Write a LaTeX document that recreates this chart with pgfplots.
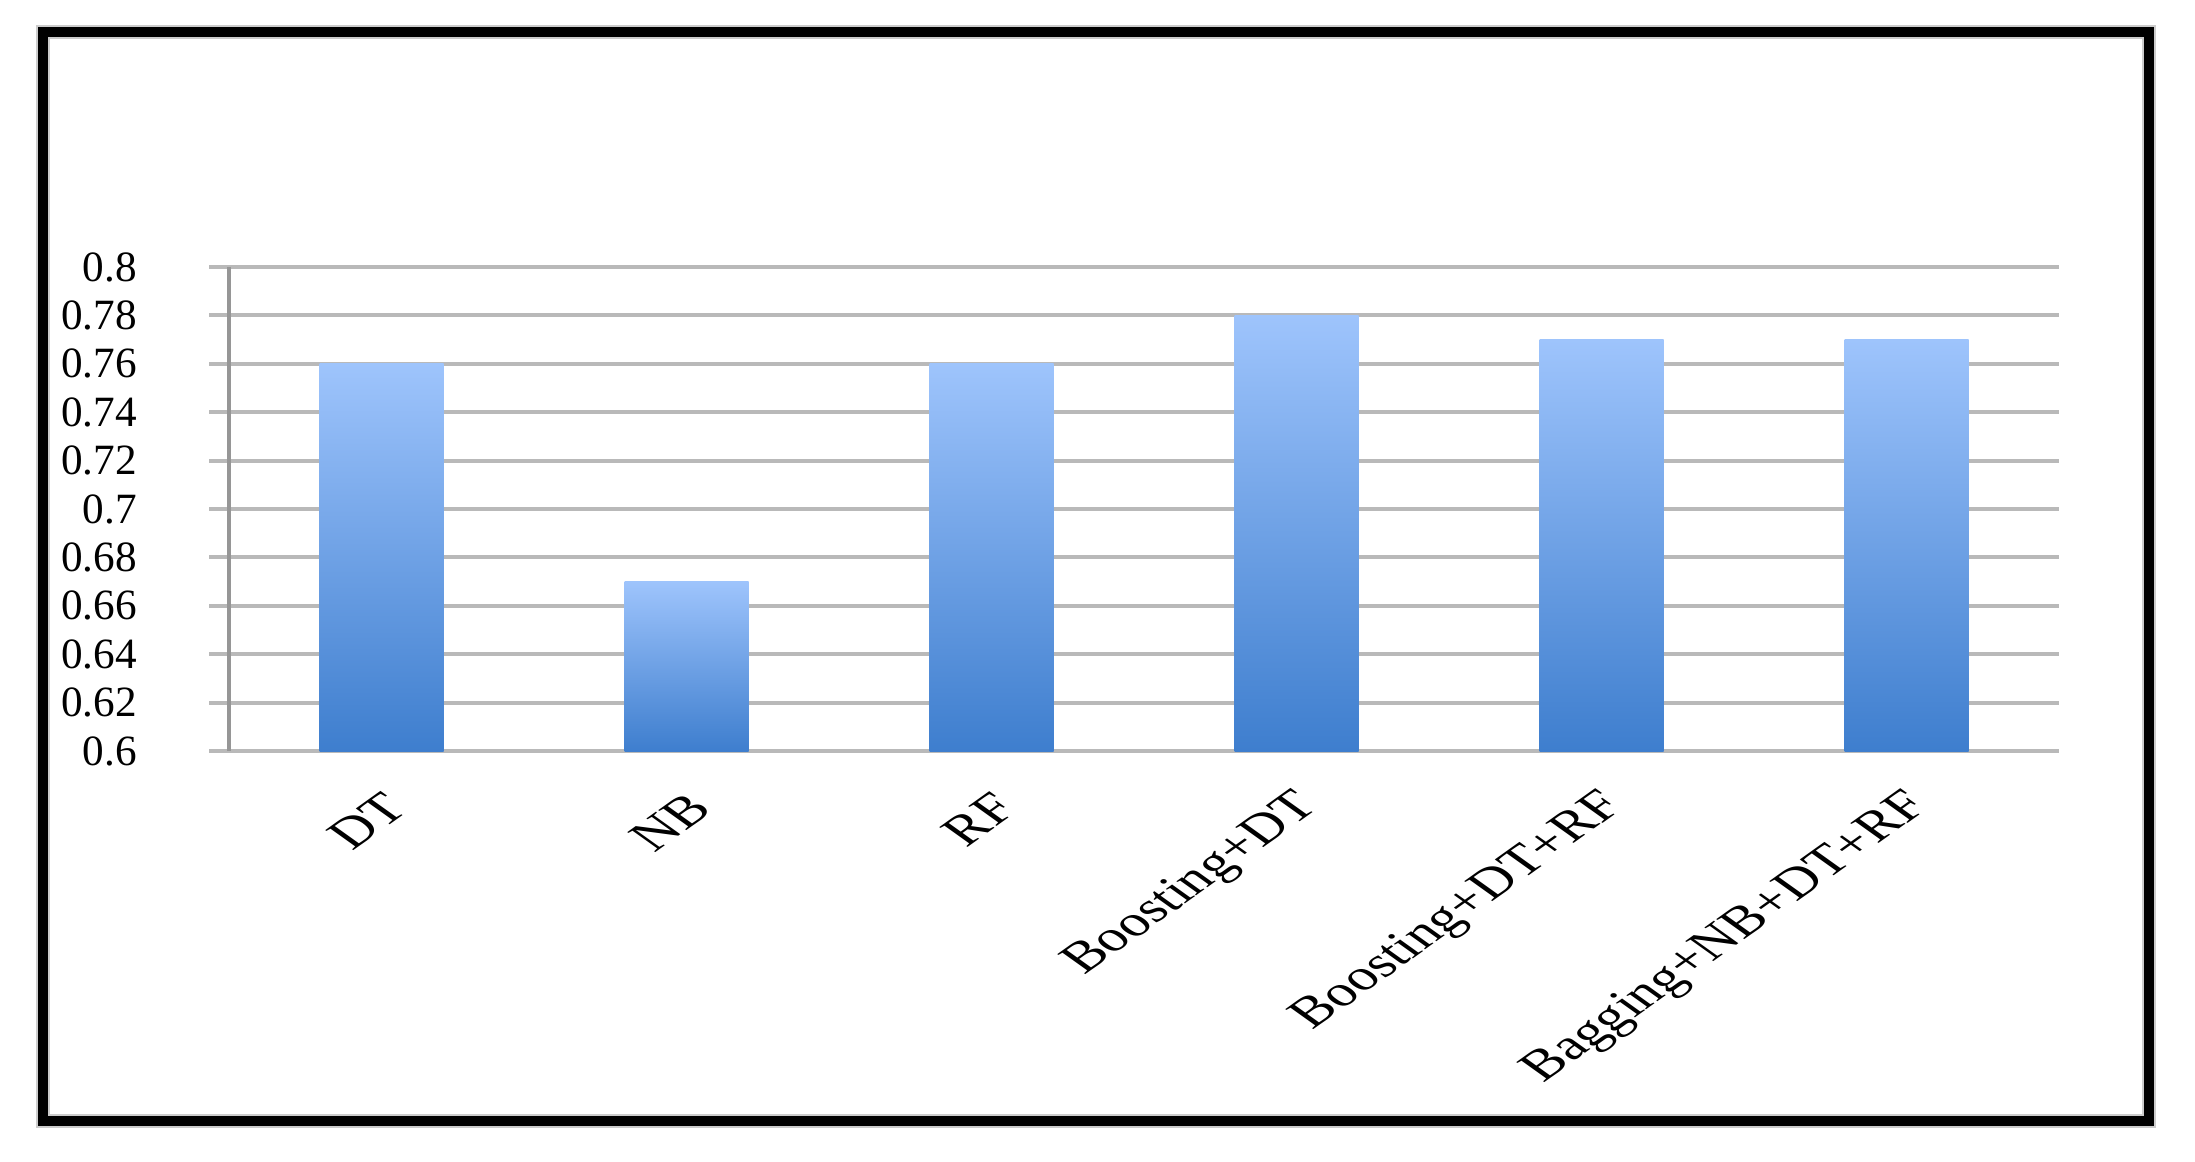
\documentclass[border=0pt]{standalone}
\usepackage{fontspec}
\setmainfont{Liberation Serif}
\usepackage{pgfplots}
\pgfplotsset{compat=1.18}
\definecolor{bartop}{RGB}{158,196,252}
\definecolor{barbot}{RGB}{62,126,206}
\definecolor{gridgray}{RGB}{185,185,185}
\definecolor{axgray}{RGB}{150,150,150}
\pgfplotsset{
    onebar/.style={ybar, bar width=31pt, bar shift=0pt, draw=none,
        top color=bartop, bottom color=barbot},
}
\begin{document}
\begin{tikzpicture}[x=1pt,y=1pt]
\path[use as bounding box] (0,0) rectangle (548.75,290.25);
% marco exterior
\draw[black!20, line width=3.5pt] (10.75,10) rectangle (537.25,282.25);
\draw[black, line width=2.4pt] (10.75,10) rectangle (537.25,282.25);

\begin{axis}[
    at={(57.25pt,102.5pt)}, anchor=south west,
    scale only axis,
    width=457.5pt, height=121pt,
    xmin=-0.5, xmax=5.5,
    ymin=0.6, ymax=0.8,
    axis lines*=left,
    x axis line style={gridgray, line width=1pt},
    y axis line style={axgray, line width=1pt},
    ytick={0.6,0.62,0.64,0.66,0.68,0.7,0.72,0.74,0.76,0.78,0.8},
    yticklabels={0.6,0.62,0.64,0.66,0.68,0.7,0.72,0.74,0.76,0.78,0.8},
    ymajorgrids,
    grid style={gridgray, line width=1pt},
    ytick style={gridgray, line width=1pt},
    tick align=outside,
    major tick length=5pt,
    xtick={0,1,2,3,4,5},
    xticklabels={DT,NB,RF,Boosting+DT,Boosting+DT+RF,Bagging+NB+DT+RF},
    x tick style={draw=none},
    minor xtick={-0.5,0.5,1.5,2.5,3.5,4.5,5.5},
    minor tick length=3.75pt,
    minor x tick style={axgray, line width=1pt},
    tick label style={font=\fontsize{10.8}{12}\selectfont},
    yticklabel style={anchor=east, xshift=-14.5pt},
    xticklabel style={xscale=1.4, rotate=45, anchor=east, yshift=-7pt},
    clip=false,
]
\addplot[onebar] coordinates {(0,0.76)};
\addplot[onebar] coordinates {(1,0.67)};
\addplot[onebar] coordinates {(2,0.76)};
\addplot[onebar] coordinates {(3,0.78)};
\addplot[onebar] coordinates {(4,0.77)};
\addplot[onebar] coordinates {(5,0.77)};
\end{axis}
\end{tikzpicture}
\end{document}
